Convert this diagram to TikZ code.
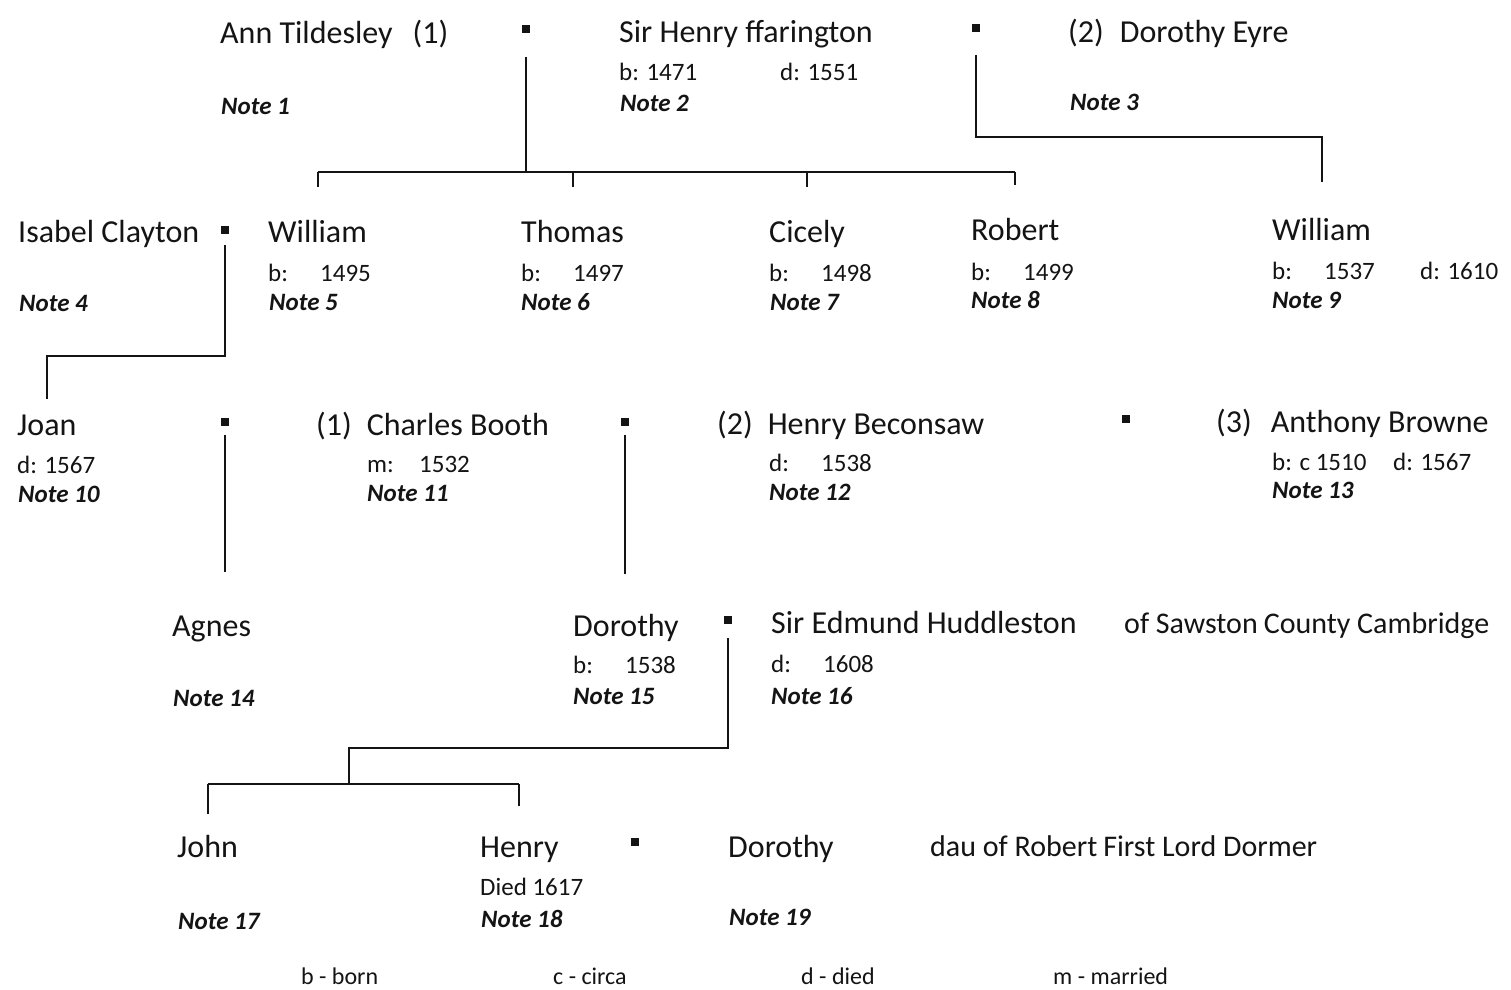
\documentclass[tikz,border=0pt]{standalone}
\usepackage{fontspec}
\setmainfont{Carlito}
\usetikzlibrary{calc}
\definecolor{cInk}{HTML}{141414}
\newcommand{\dline}[2]{\makebox[52pt][l]{#1}#2}
\tikzset{
  pname/.style={anchor=base west,inner xsep=0pt,inner ysep=2pt,text=cInk,font=\fontsize{32}{34}\selectfont},
  pdata/.style={anchor=base west,inner xsep=0pt,inner ysep=2pt,text=cInk,font=\fontsize{25}{27}\selectfont},
  pnote/.style={anchor=base west,inner sep=0pt,text=cInk,font=\fontsize{25}{27}\selectfont\bfseries\itshape},
  paside/.style={pname,font=\fontsize{30}{32}\selectfont},
  wed/.style={rectangle,fill=cInk,minimum size=7.5pt,inner sep=0pt},
  rel/.style={draw=cInk,line width=2pt},
  lgd/.style={anchor=base west,inner sep=0pt,text=cInk,font=\fontsize{24}{26}\selectfont},
}
\begin{document}
\begin{tikzpicture}[x=1pt,y=-1pt]
  \useasboundingbox[fill=white] (0,0) rectangle (1511,989);

  % first generation
  \node[pname] (ann) at (220,43) {Ann Tildesley\hspace{20pt}(1)};
  \node[pnote] (n1) at (221,114) {Note 1};
  \node[wed] (m1) at (526,29) {};
  \node[pname] (hff) at (619,42) {Sir Henry ffarington};
  \node[pdata] (hffb) at (619,80) {b: 1471};
  \node[pdata] (hffd) at (780,80) {d: 1551};
  \node[pnote] (n2) at (620,111) {Note 2};
  \node[wed] (m2) at (976,28) {};
  \node[pname] (eyre) at (1068,42) {(2)\hspace{16pt}Dorothy Eyre};
  \node[pnote] (n3) at (1070,110) {Note 3};

  % second generation
  \node[pname] (isa) at (18,242) {Isabel Clayton};
  \node[pnote] (n4) at (19,311) {Note 4};
  \node[wed] (m3) at (225,230) {};
  \node[pname] (will) at (268,242) {William};
  \node[pdata] (willb) at (268,281) {\dline{b:}{1495}};
  \node[pnote] (n5) at (269,310) {Note 5};
  \node[pname] (tho) at (521,242) {Thomas};
  \node[pdata] (thob) at (521,281) {\dline{b:}{1497}};
  \node[pnote] (n6) at (521,310) {Note 6};
  \node[pname] (cic) at (769,242) {Cicely};
  \node[pdata] (cicb) at (769,281) {\dline{b:}{1498}};
  \node[pnote] (n7) at (770,310) {Note 7};
  \node[pname] (rob) at (971,240) {Robert};
  \node[pdata] (robb) at (971,280) {\dline{b:}{1499}};
  \node[pnote] (n8) at (971,308) {Note 8};
  \node[pname] (wil2) at (1272,240) {William};
  \node[pdata] (wil2b) at (1272,279) {\dline{b:}{1537}};
  \node[pdata] (wil2d) at (1420,279) {d: 1610};
  \node[pnote] (n9) at (1272,308) {Note 9};

  % third generation
  \node[pname] (joan) at (17,435) {Joan};
  \node[pdata] (joand) at (17,473) {d: 1567};
  \node[pnote] (n10) at (18,502) {Note 10};
  \node[wed] (m4) at (225,422) {};
  \node[pname] (boo) at (316,435) {(1)\hspace{15pt}Charles Booth};
  \node[pdata] (boom) at (367,472) {\dline{m:}{1532}};
  \node[pnote] (n11) at (367,501) {Note 11};
  \node[wed] (m5) at (625,422) {};
  \node[pname] (bec) at (717,434) {(2)\hspace{15pt}Henry Beconsaw};
  \node[pdata] (becd) at (769,471) {\dline{d:}{1538}};
  \node[pnote] (n12) at (769,500) {Note 12};
  \node[wed] (m6) at (1126,419) {};
  \node[pname] (bro) at (1216,432) {(3)\hspace{19pt}Anthony Browne};
  \node[pdata] (brob) at (1272,470) {b: c 1510};
  \node[pdata] (brod) at (1393,470) {d: 1567};
  \node[pnote] (n13) at (1272,498) {Note 13};

  % fourth generation
  \node[pname] (agn) at (172,636) {Agnes};
  \node[pnote] (n14) at (173,706) {Note 14};
  \node[pname] (dor) at (573,636) {Dorothy};
  \node[pdata] (dorb) at (573,673) {\dline{b:}{1538}};
  \node[pnote] (n15) at (573,704) {Note 15};
  \node[wed] (m7) at (728,620) {};
  \node[pname] (edm) at (771,633) {Sir Edmund Huddleston};
  \node[paside] (saw) at (1124,633) {of Sawston\hspace{6pt}County Cambridge};
  \node[pdata] (edmd) at (771,672) {\dline{d:}{1608}};
  \node[pnote] (n16) at (771,704) {Note 16};

  % fifth generation
  \node[pname] (john) at (177,857) {John};
  \node[pnote] (n17) at (178,929) {Note 17};
  \node[pname] (hen) at (480,857) {Henry};
  \node[pdata] (hend) at (480,895) {Died 1617};
  \node[pnote] (n18) at (481,927) {Note 18};
  \node[wed] (m8) at (635,842) {};
  \node[pname] (dor2) at (728,857) {Dorothy};
  \node[paside] (dorm) at (930,856) {dau of Robert\hspace{6pt}First Lord Dormer};
  \node[pnote] (n19) at (729,925) {Note 19};

  % key
  \node[lgd] (kb) at (301,984) {b - born};
  \node[lgd] (kc) at (553,984) {c - circa};
  \node[lgd] (kd) at (801,984) {d - died};
  \node[lgd] (km) at (1053,984) {m - married};

  % descent lines
  \coordinate (bus1) at (526,172);
  \coordinate (bus2) at (976,137);
  \coordinate (bus3) at (349,784);
  \coordinate (jbus) at (225,356);
  \coordinate (jn) at (349,748);

  \draw[rel,shorten <=24pt] (m1) -- (bus1);
  \draw[rel] (will.north |- bus1) -- (rob.north |- bus1);
  \foreach \k in {will,tho,cic,rob}
    \draw[rel,shorten >=31pt] (\k.north |- bus1) -- (\k.north);
  \draw[rel,shorten <=23pt,shorten >=34pt] (m2) -- (bus2) -| (wil2.north);
  \draw[rel,shorten <=11pt,shorten >=13pt] (m3) -- (jbus) -| (joan.north);
  \draw[rel,shorten <=9pt,shorten >=41pt] (m4) -- (m4 |- agn.north);
  \draw[rel,shorten <=9pt,shorten >=38pt] (m5) -- (m5 |- dor.north);
  \draw[rel,shorten <=14pt] (m7) |- (jn) -- (bus3);
  \draw[rel] (john.north |- bus3) -- (hen.north |- bus3);
  \draw[rel,shorten >=19pt] (john.north |- bus3) -- (john.north);
  \draw[rel,shorten >=28pt] (hen.north |- bus3) -- (hen.north);
\end{tikzpicture}
\end{document}
